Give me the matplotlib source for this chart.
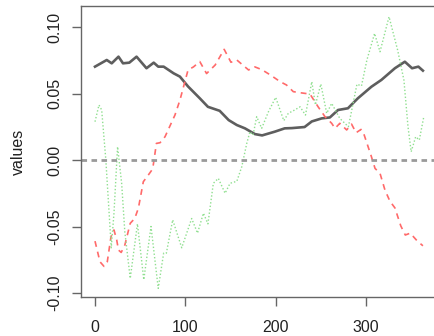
import matplotlib
matplotlib.use('Agg')
import matplotlib.pyplot as plt

# values (x index, series value)
x_black = [0, 13, 18.5, 26, 31, 38, 46, 57, 65, 70, 76, 87, 94, 103, 116, 125, 138,
           148, 157, 166, 177, 185, 199, 210, 218, 232, 240, 251, 260, 269, 280, 291,
           306, 317, 332, 343, 351, 358, 363]
y_black = [0.0702, 0.0752, 0.0727, 0.0777, 0.0727, 0.0732, 0.0777, 0.0690, 0.0732, 0.0702,
           0.0702, 0.0652, 0.0627, 0.0553, 0.0464, 0.0400, 0.0370, 0.0300, 0.0263, 0.0238,
           0.0195, 0.0185, 0.0213, 0.0238, 0.0240, 0.0248, 0.0290, 0.0313, 0.0320, 0.0376,
           0.0389, 0.0464, 0.0551, 0.0602, 0.0690, 0.0739, 0.0690, 0.0702, 0.0672]

x_red = [0, 5.5, 10, 13.6, 17.7, 21, 24, 26, 29, 33, 39, 44, 48, 53.5, 59, 63, 64.5, 68,
         72, 77.5, 88.5, 94, 103, 109, 116, 123.5, 133, 143, 150.5, 157, 170, 177, 184.5,
         194, 205, 212, 219.5, 227, 238, 247, 254.6, 262, 265.7, 271, 278.6, 284, 289,
         294.5, 298, 306, 310, 315.5, 321, 326.5, 332, 338.5, 343.5, 349, 356.5, 363]
y_red = [-0.0610, -0.0765, -0.0800, -0.0765, -0.0577, -0.0526, -0.0600, -0.0677, -0.0695,
         -0.0640, -0.0476, -0.0439, -0.0363, -0.0163, -0.0113, -0.0075, -0.0038, 0.0125,
         0.0130, 0.0175, 0.0338, 0.0450, 0.0677, 0.0700, 0.0740, 0.0650, 0.0714, 0.0832,
         0.0735, 0.0752, 0.0677, 0.0700, 0.0680, 0.0640, 0.0589, 0.0564, 0.0514, 0.0506,
         0.0496, 0.0400, 0.0326, 0.0276, 0.0238, 0.0276, 0.0226, 0.0270, 0.0205, 0.0230,
         0.0188, 0.0025, -0.0063, -0.0100, -0.0226, -0.0310, -0.0360, -0.0495, -0.0564,
         -0.0550, -0.0607, -0.0645]

x_green = [0, 4.4, 7.4, 12, 18, 21, 25, 29.5, 33, 39, 47, 54, 62, 70, 76, 79, 86, 96, 107,
           113.5, 120, 125, 131, 136.5, 144, 149.5, 157, 162.5, 168, 171.5, 175, 179,
           184.5, 192, 200, 209, 214, 221, 227, 233, 240, 244, 250, 256.5, 262, 271,
           280.5, 290, 295, 301, 309.5, 315.5, 325.5, 335, 342, 346.5, 350, 355, 359, 364]
y_green = [0.0288, 0.0414, 0.0376, 0.0000, -0.0660, -0.0400, 0.0100, -0.0175, -0.0540,
           -0.0890, -0.0480, -0.0900, -0.0500, -0.0965, -0.0700, -0.0700, -0.0450, -0.0660,
           -0.0440, -0.0550, -0.0400, -0.0480, -0.0175, -0.0138, -0.0250, -0.0175, -0.0160,
           -0.0050, 0.0125, 0.0213, 0.0188, 0.0326, 0.0238, 0.0363, 0.0471, 0.0296, 0.0351,
           0.0376, 0.0400, 0.0338, 0.0589, 0.0414, 0.0571, 0.0351, 0.0426, 0.0313, 0.0250,
           0.0570, 0.0557, 0.0752, 0.0952, 0.0814, 0.1077, 0.0827, 0.0600, 0.0250, 0.0062,
           0.0175, 0.0150, 0.0326]

xticks = [0, 100, 200, 300]
yticks = [-0.10, -0.05, 0.00, 0.05, 0.10]
ytick_labels = ['-0.10', '-0.05', '0.00', '0.05', '0.10']

plt.rcParams['font.family'] = ['Liberation Sans', 'DejaVu Sans']

fig = plt.figure(figsize=(4.35, 3.36), dpi=100)
ax = fig.add_axes([81/435, 1 - 297/336, 356/435, 291/336])

ax.plot(x_black, y_black, color='#5e5e5e', lw=1.9, solid_joinstyle='round')
ax.plot(x_red, y_red, color='#ff6a6a', lw=1.2, linestyle=(0, (3.5, 3)))
ax.plot(x_green, y_green, color='#8fdf8f', lw=1.0, linestyle=(0, (1, 1.5)))
ax.axhline(0, color='#9a9a9a', lw=2, linestyle=(0, (2, 1.6)))

ax.set_xlim(-15.5, 378.6)
ax.set_ylim(-0.1030, 0.1158)

ax.set_xticks(xticks)
ax.set_xticklabels([str(t) for t in xticks])
ax.set_yticks(yticks)
ax.set_yticklabels(ytick_labels, rotation=90, va='center')

for s in ax.spines.values():
    s.set_color('#666666')
    s.set_linewidth(1.0)

ax.tick_params(axis='both', direction='out', length=6.5, width=1.0, color='#666666',
               labelsize=11.5, labelcolor='#222222')
ax.tick_params(axis='x', pad=10)
ax.tick_params(axis='y', pad=7)

ax.set_ylabel('values', fontsize=11.5, color='#222222', labelpad=15)

fig.savefig('out.png', dpi=100)
